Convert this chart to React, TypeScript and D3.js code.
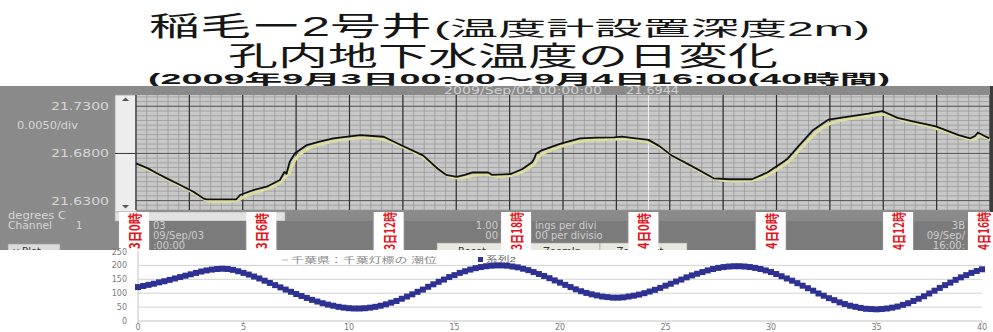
import React from "react";
import * as d3 from "d3";

// ---- Title text ----
const titleMain = "稲毛ー2号井";
const titleSub = "(温度計設置深度2m)";
const titleLine2 = "孔内地下水温度の日変化";
const titleLine3 = "(2009年9月3日00:00〜9月4日16:00(40時間)";

// ---- Borehole water temperature (hours from 2009/09/03 00:00, °C) ----
const tempHours = [
  0, 0.56, 1.0, 1.44, 2.0, 2.69, 3.15, 3.3, 4.0, 4.7,
  4.87, 5.5, 6.12, 6.74, 6.95, 7.05, 7.2, 7.45, 8.0, 8.6,
  9.24, 10.5, 11.6, 12.4, 13.44, 14.15, 14.52, 15.02, 15.4, 15.77,
  16.49, 16.67, 17.56, 18.1, 18.55, 18.65, 18.74, 19.0, 19.89, 20.8,
  21.6, 22.39, 22.76, 23.3, 24.0, 24.5, 25.09, 25.99, 27.06, 27.78,
  28.85, 29.57, 30.29, 30.5, 31.0, 31.72, 32.44, 33.52, 34.3, 34.95,
  35.67, 36.38, 37.46, 38.53, 39.07, 39.3, 39.43, 39.7, 39.97,
];
const tempValues = [
  21.6695, 21.6642, 21.6588, 21.6536, 21.6473, 21.6394, 21.6324, 21.6313, 21.6312, 21.6314,
  21.6359, 21.6412, 21.6447, 21.6518, 21.6603, 21.6585, 21.6712, 21.6801, 21.6889, 21.6925,
  21.696, 21.6995, 21.6977, 21.6889, 21.6779, 21.6635, 21.6573, 21.6551, 21.6572, 21.6598,
  21.6598, 21.6573, 21.6582, 21.6635, 21.6707, 21.6745, 21.6797, 21.6833, 21.6905, 21.696,
  21.6968, 21.6971, 21.6978, 21.6962, 21.6944, 21.688, 21.6779, 21.6671, 21.6536, 21.6526,
  21.6526, 21.6598, 21.6707, 21.674, 21.6869, 21.705, 21.7159, 21.7195, 21.7222, 21.725,
  21.7177, 21.7141, 21.7087, 21.6995, 21.696, 21.6985, 21.7022, 21.699, 21.696,
];
const cursorHour = 24;
const cursorStamp = "2009/Sep/04 00:00:00";
const cursorValue = 21.6944;
const tempTickValues = [21.73, 21.68, 21.63];
const tempScaleNote = "0.0050/div";

// ---- Time marks under the recorder trace ----
const timeMarkHours = [0, 6, 12, 18, 24, 30, 36, 40];
const timeMarkLabels = ["3日0時", "3日6時", "3日12時", "3日18時", "4日0時", "4日6時", "4日12時", "4日16時"];

// ---- Lower chart: 系列2 sampled every 0.25 ----
const series2Step = 0.25;
const series2 = [
  122, 126, 130, 134, 139, 143, 148, 153, 158, 163,
  168, 173, 178, 182, 185, 187, 188, 187, 184, 179,
  173, 167, 160, 153, 145, 137, 129, 121, 113, 105,
  97, 90, 83, 76, 70, 64, 59, 55, 51, 48,
  46, 45, 45, 46, 48, 51, 55, 60, 66, 72,
  80, 88, 96, 105, 113, 123, 132, 141, 149, 158,
  165, 173, 179, 185, 190, 194, 197, 199, 200, 200,
  199, 196, 193, 188, 183, 176, 169, 162, 154, 146,
  138, 130, 122, 114, 107, 101, 96, 92, 88, 86,
  84, 84, 85, 88, 91, 95, 100, 106, 112, 119,
  127, 134, 142, 149, 157, 164, 170, 176, 182, 187,
  191, 194, 196, 197, 197, 196, 194, 191, 187, 182,
  176, 169, 161, 153, 145, 136, 127, 118, 109, 99,
  91, 82, 75, 67, 61, 55, 51, 47, 44, 43,
  42, 43, 45, 48, 52, 58, 64, 72, 80, 89,
  99, 109, 119, 129, 138, 148, 157, 165, 173, 180,
  186,
];
const lowerYTicks = [0, 50, 100, 150, 200, 250];
const lowerXTicks = [0, 5, 10, 15, 20, 25, 30, 35, 40];
const legendTide = "千葉県：千葉灯標の 潮位";
const legendSeries2 = "系列2";

// ---- Recorder panel captions ----
const unitLabel = "degrees C";
const channelLabel = "Channel";
const channelNo = "1";

const jp = "'Liberation Sans', 'Noto Sans CJK JP', sans-serif";
const ui = "'DejaVu Sans', 'Liberation Sans', sans-serif";

export default function App() {
  // recorder trace scales
  const xT = d3.scaleLinear().domain([0, 40]).range([136, 990]);
  const yT = d3.scaleLinear().domain([21.62, 21.742]).range([210, 95]);
  // time-mark label positions
  const xL = d3.scaleLinear().domain([0, 40]).range([133, 982]);
  // lower chart scales
  const xB = d3.scaleLinear().domain([0, 40]).range([138, 982]);
  const yB = d3.scaleLinear().domain([0, 250]).range([321, 251.5]);

  const pts: [number, number][] = tempHours.map((h, i) => [h, tempValues[i]]);
  const rawLine = d3
    .line<[number, number]>()
    .x((d) => xT(d[0]))
    .y((d) => yT(d[1]))
    .curve(d3.curveLinear);
  const smoothLine = d3
    .line<[number, number]>()
    .x((d) => xT(d[0]))
    .y((d) => yT(d[1]))
    .curve(d3.curveBasis);

  const minorV = d3.range(0, 40.0001, 0.5);
  const majorV = d3.range(0, 40.0001, 2.5);
  const minorH = d3.range(0, 25).map((k) => 21.62 + k * 0.005);
  const fmt = d3.format(".4f");

  const [tMin, tMax] = xT.range();
  const [yBot, yTop] = yT.range();

  // info boxes sit between consecutive time marks
  const boxes = timeMarkHours.slice(0, -1).map((h, i) => ({
    x0: xL(h) + 17,
    x1: xL(timeMarkHours[i + 1]) - 15,
  }));
  const boxText: { t: string; anchor: "start" | "end"; y: number }[][] = [
    [
      { t: "03", anchor: "start", y: 229 },
      { t: "09/Sep/03", anchor: "start", y: 239 },
      { t: ":00:00", anchor: "start", y: 249 },
    ],
    [],
    [
      { t: "1.00", anchor: "end", y: 229 },
      { t: "00", anchor: "end", y: 239 },
    ],
    [
      { t: "ings per divi", anchor: "start", y: 229 },
      { t: "00 per divisio", anchor: "start", y: 239 },
    ],
    [],
    [],
    [
      { t: "3B", anchor: "end", y: 229 },
      { t: "09/Sep/", anchor: "end", y: 239 },
      { t: "16:00:", anchor: "end", y: 249 },
    ],
  ];

  const series2Pts = series2.map((v, i) => [i * series2Step, v] as [number, number]);

  return (
    <svg
      width={993}
      height={332}
      viewBox="0 0 993 332"
      style={{ position: "absolute", left: 0, top: 0, background: "#fff" }}
    >
      <defs>
        <clipPath id="btnClip">
          <rect x={0} y={240} width={993} height={13} />
        </clipPath>
      </defs>

      {/* ---------- titles ---------- */}
      <g fill="#161616" fontFamily={jp}>
        <text x={149} y={36} fontSize={27} textLength={283} lengthAdjust="spacingAndGlyphs">
          {titleMain}
        </text>
        <text x={434} y={36} fontSize={20} textLength={436} lengthAdjust="spacingAndGlyphs">
          {titleSub}
        </text>
        <text x={228} y={66} fontSize={27} textLength={550} lengthAdjust="spacingAndGlyphs">
          {titleLine2}
        </text>
        <text x={148} y={84} fontSize={14} fontWeight="bold" textLength={742} lengthAdjust="spacingAndGlyphs">
          {titleLine3}
        </text>
      </g>

      {/* ---------- recorder panel ---------- */}
      <rect x={0} y={86} width={993} height={164} fill="#8a8a8a" />
      <g fontFamily={ui} fontSize={10} fill="#cfcfcf">
        <text x={444} y={94} textLength={158} lengthAdjust="spacingAndGlyphs">{cursorStamp}</text>
        <text x={626} y={94} textLength={53} lengthAdjust="spacingAndGlyphs">{fmt(cursorValue)}</text>
      </g>

      {/* left value labels */}
      <g fontFamily={ui} fontSize={10} fill="#d6d6d6">
        {tempTickValues.map((v) => (
          <text key={v} x={51} y={yT(v) + 4} textLength={58} lengthAdjust="spacingAndGlyphs">
            {fmt(v)}
          </text>
        ))}
        <text x={17} y={129} textLength={61} lengthAdjust="spacingAndGlyphs">{tempScaleNote}</text>
        <text x={8} y={219} textLength={58} lengthAdjust="spacingAndGlyphs">{unitLabel}</text>
        <text x={8} y={229} textLength={44} lengthAdjust="spacingAndGlyphs">{channelLabel}</text>
        <text x={76} y={229}>{channelNo}</text>
      </g>

      {/* vertical scroller */}
      <rect x={115} y={95} width={21} height={117} fill="#ededed" stroke="#a0a0a0" strokeWidth={0.8} />
      <line x1={115} x2={136} y1={yT(21.68)} y2={yT(21.68)} stroke="#333" strokeWidth={1} />
      <path d="M122,101 L125.5,97.5 L129,101 Z" fill="#555" />
      <path d="M122,205 L125.5,208.5 L129,205 Z" fill="#555" />

      {/* plot area */}
      <rect x={tMin} y={yTop} width={tMax - tMin} height={yBot - yTop} fill="#c8c8c8" />
      <g stroke="#999" strokeWidth={0.8}>
        {minorH.map((v) => (
          <line key={"h" + v} x1={tMin} x2={tMax} y1={yT(v)} y2={yT(v)} />
        ))}
        {minorV.map((h) => (
          <line key={"v" + h} x1={xT(h)} x2={xT(h)} y1={yTop} y2={yBot} />
        ))}
      </g>
      <g stroke="#5a5a5a" strokeWidth={1}>
        {tempTickValues.map((v) => (
          <line key={"H" + v} x1={tMin} x2={tMax} y1={yT(v)} y2={yT(v)} />
        ))}
      </g>
      <g stroke="#303030" strokeWidth={1.2}>
        {majorV.map((h) => (
          <line key={"V" + h} x1={xT(h)} x2={xT(h)} y1={yTop} y2={yBot} />
        ))}
      </g>
      <line x1={xT(cursorHour)} x2={xT(cursorHour)} y1={yTop} y2={yBot} stroke="#f6f6f6" strokeWidth={1} />
      <path d={smoothLine(pts) || ""} fill="none" stroke="#dcdca0" strokeWidth={3} transform="translate(2.5,2)" />
      <path d={rawLine(pts) || ""} fill="none" stroke="#111" strokeWidth={1.8} strokeLinejoin="round" />
      <rect x={990} y={86} width={3} height={126} fill="#3c3c3c" />

      {/* horizontal scroller strip */}
      <rect x={115} y={212} width={170} height={9} fill="#e2e2e2" stroke="#a8a8a8" strokeWidth={0.6} />

      {/* info boxes */}
      {boxes.map((b, i) => (
        <g key={"b" + i}>
          <rect x={b.x0} y={221} width={b.x1 - b.x0} height={29} fill="#7b7b7b" />
          {boxText[i].map((l, j) => (
            <text
              key={j}
              x={l.anchor === "start" ? b.x0 + 3 : b.x1 - 2}
              y={l.y}
              textAnchor={l.anchor}
              fontFamily={ui}
              fontSize={10}
              fill="#cdcdcd"
            >
              {l.t}
            </text>
          ))}
        </g>
      ))}

      {/* buttons */}
      <g clipPath="url(#btnClip)" fontFamily={ui} fontSize={10} fill="#333">
        <rect x={437} y={243} width={70} height={12} fill="#e8e8e0" stroke="#9c9c9c" strokeWidth={0.6} />
        <rect x={528} y={243} width={72} height={12} fill="#e8e8e0" stroke="#9c9c9c" strokeWidth={0.6} />
        <rect x={600} y={243} width={87} height={12} fill="#e8e8e0" stroke="#9c9c9c" strokeWidth={0.6} />
        <text x={472} y={255} textAnchor="middle">Reset</text>
        <text x={562} y={255} textAnchor="middle">ZoomIn</text>
        <text x={640} y={255} textAnchor="middle">ZoomOut</text>
        <rect x={8} y={244} width={52} height={12} fill="#dcdcdc" stroke="#9c9c9c" strokeWidth={0.6} />
        <text x={13} y={255}>v Plot</text>
      </g>

      {/* time marks */}
      {timeMarkHours.map((h, i) => (
        <g key={"m" + h}>
          <rect x={xL(h) - 14} y={212} width={30} height={38} fill="#fdfdfd" />
          <text
            transform={`translate(${xL(h) + 1},231) rotate(-90)`}
            textAnchor="middle"
            dominantBaseline="central"
            fontFamily="'Noto Sans CJK JP', sans-serif"
            fontWeight="bold"
            fontSize={14}
            fill="#e3141c"
            textLength={timeMarkLabels[i].length > 4 ? 38 : 36}
            lengthAdjust="spacingAndGlyphs"
          >
            {timeMarkLabels[i]}
          </text>
        </g>
      ))}

      {/* ---------- lower chart ---------- */}
      <rect x={0} y={250} width={993} height={82} fill="#fff" />
      <g stroke="#d2d2d2" strokeWidth={1}>
        {lowerYTicks
          .filter((v) => v > 0 && v < 250)
          .map((v) => (
            <line key={"g" + v} x1={xB(0)} x2={xB(40)} y1={yB(v)} y2={yB(v)} />
          ))}
      </g>
      <line x1={xB(0)} x2={xB(0)} y1={yB(250)} y2={yB(0)} stroke="#c4c4c4" />
      <line x1={xB(0)} x2={xB(40)} y1={yB(0)} y2={yB(0)} stroke="#c4c4c4" />
      <g stroke="#c4c4c4">
        {lowerXTicks.map((t) => (
          <line key={"t" + t} x1={xB(t)} x2={xB(t)} y1={yB(0)} y2={yB(0) + 3} />
        ))}
      </g>
      <g fontFamily={ui} fontSize={8} fill="#7a7a7a">
        {lowerYTicks.map((v) => (
          <text key={"yl" + v} x={127} y={yB(v) + 3} textAnchor="end">
            {v}
          </text>
        ))}
        {lowerXTicks.map((t) => (
          <text key={"xl" + t} x={xB(t)} y={330} textAnchor="middle">
            {t}
          </text>
        ))}
      </g>

      {/* 系列2 markers */}
      <g fill="#2e3192">
        {series2Pts.map(([x, v], i) => (
          <rect key={"p" + i} x={xB(x) - 3} y={yB(v) - 3} width={6} height={6} />
        ))}
      </g>

      {/* legend */}
      <line x1={282} x2={288} y1={260} y2={260} stroke="#b8b8b8" strokeWidth={1} />
      <text x={291} y={263} fontFamily={jp} fontSize={8} fill="#8a8a8a" textLength={146} lengthAdjust="spacingAndGlyphs">
        {legendTide}
      </text>
      <rect x={478} y={257} width={5} height={5} fill="#2e3192" />
      <text x={486} y={262} fontFamily={jp} fontSize={8} fill="#666" textLength={30} lengthAdjust="spacingAndGlyphs">
        {legendSeries2}
      </text>
    </svg>
  );
}
